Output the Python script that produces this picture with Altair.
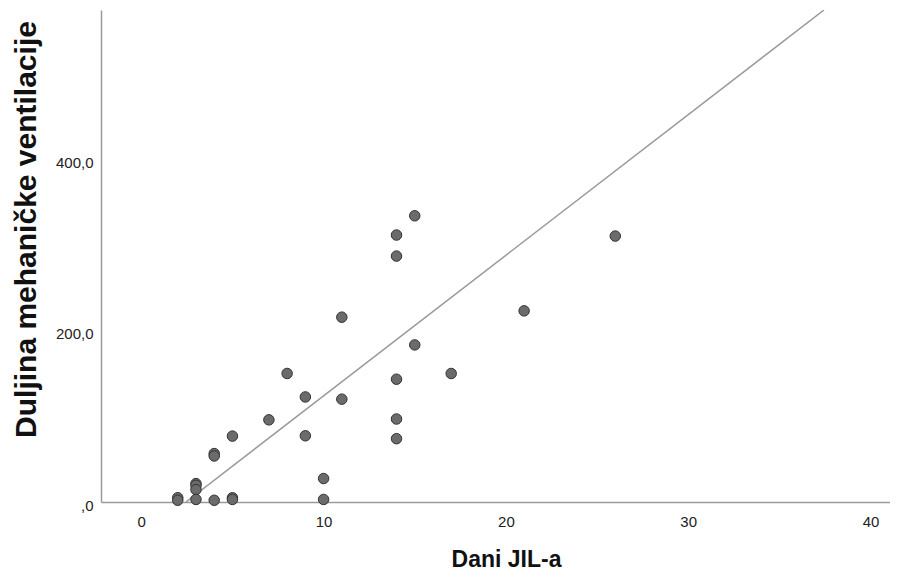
import altair as alt
import pandas as pd

# Scatter data (Dani JIL-a vs Duljina mehaničke ventilacije)
dani = [2, 2, 3, 3, 3, 3, 4, 4, 4, 5, 5, 5, 7, 8, 9, 9, 10, 10, 11, 11,
        14, 14, 14, 14, 14, 15, 15, 17, 21, 26]
duljina = [5, 2, 21.5, 19.5, 14.5, 3, 56.6, 53.8, 2, 77, 5, 3, 96, 150.2,
           122.8, 77.4, 27.4, 3, 216, 120.2, 312, 287.4, 143.5, 97, 74,
           334.5, 183.6, 150.2, 223.4, 310.8]

# Fit line end points
fit_x = [2.45, 37.45]
fit_y = [0.0, 575.0]

x_ticks = [0, 10, 20, 30, 40]
y_ticks = [0, 200, 400]
x_domain = [-2.21, 41.07]
y_domain = [0, 575]

pts = pd.DataFrame({"x": dani, "y": duljina})
fit = pd.DataFrame({"x": fit_x, "y": fit_y})

FONT = "Liberation Sans"

x_enc = alt.X(
    "x:Q",
    scale=alt.Scale(domain=x_domain, nice=False, zero=False),
    axis=alt.Axis(
        title="Dani JIL-a",
        values=x_ticks,
        format="d",
        labelPadding=12,
        titleX=405,
        titleY=64,
        titleAlign="center",
        titleBaseline="alphabetic",
    ),
)
y_enc = alt.Y(
    "y:Q",
    scale=alt.Scale(domain=y_domain, nice=False, zero=True),
    axis=alt.Axis(
        title="Duljina mehaničke ventilacije",
        values=y_ticks,
        labelExpr="datum.value == 0 ? ',0' : replace(format(datum.value, '.1f'), '.', ',')",
        labelPadding=8,
        labelOffset=3,
        titleAngle=270,
        titleX=-66,
        titleY=219,
        titleAlign="center",
        titleBaseline="alphabetic",
        titleFontSize=30,
    ),
)

line = alt.Chart(fit).mark_line(color="#9a9a9a", strokeWidth=1.5, clip=True).encode(
    x=x_enc, y=y_enc
)
points = alt.Chart(pts).mark_circle(
    size=110, fill="#6b6b6b", stroke="#333333", strokeWidth=1, opacity=1
).encode(x=x_enc, y=y_enc)

chart = (
    alt.layer(line, points)
    .properties(
        width=789,
        height=492,
        autosize=alt.AutoSizeParams(type="none"),
        padding={"left": 93, "top": 2, "right": 0, "bottom": 71},
        background="white",
    )
    .configure_view(stroke=None)
    .configure_axis(
        grid=False,
        ticks=False,
        domainColor="#9a9a9a",
        domainWidth=1.5,
        labelFont=FONT,
        labelFontSize=15,
        labelColor="#222222",
        titleFont=FONT,
        titleFontWeight="bold",
        titleFontSize=23,
        titleColor="#111111",
    )
)

chart.save("out.html", embed_options={"renderer": "svg", "actions": False})
